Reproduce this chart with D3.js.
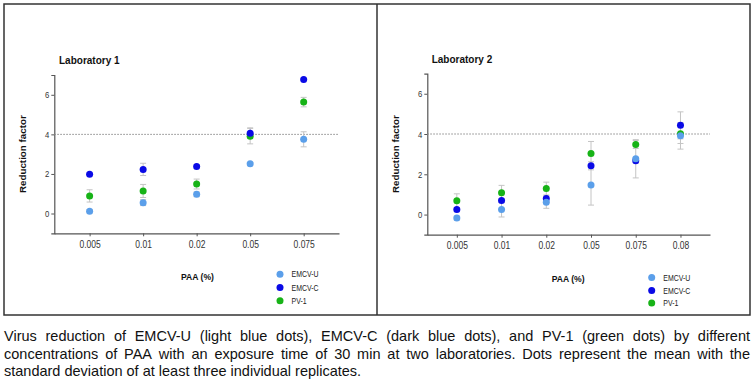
<!DOCTYPE html>
<html><head><meta charset="utf-8">
<script src="https://cdn.jsdelivr.net/npm/d3@7"></script>
<style>
html,body{margin:0;padding:0;background:#fff;}
svg{display:block;}
</style></head>
<body>
<svg id="chart" width="755" height="382"></svg>
<script>
// ---------------- data ----------------
const seriesNames = ["EMCV-U", "EMCV-C", "PV-1"];
const seriesColors = ["#5b9fea", "#0a0ae6", "#17b317"];

const lab1Cats = ["0.005", "0.01", "0.02", "0.05", "0.075"];
const lab1EmcvU = [0.12, 0.55, 0.97, 2.52, 3.75];
const lab1EmcvUSd = [0.08, 0.15, 0.12, 0.06, 0.38];
const lab1EmcvC = [1.98, 2.23, 2.38, 4.06, 6.77];
const lab1EmcvCSd = [0.05, 0.31, 0.08, 0.27, 0.05];
const lab1Pv1 = [0.89, 1.14, 1.49, 3.91, 5.63];
const lab1Pv1Sd = [0.31, 0.33, 0.25, 0.39, 0.24];

const lab2Cats = ["0.005", "0.01", "0.02", "0.05", "0.075", "0.08"];
const lab2EmcvU = [-0.17, 0.25, 0.61, 1.47, 2.77, 3.91];
const lab2EmcvUSd = [0.10, 0.37, 0.30, 1.00, 0.95, 0.66];
const lab2EmcvC = [0.25, 0.70, 0.80, 2.42, 2.67, 4.43];
const lab2EmcvCSd = [0.10, 0.10, 0.15, 0.20, 0.10, 0.67];
const lab2Pv1 = [0.68, 1.08, 1.29, 3.03, 3.48, 4.01];
const lab2Pv1Sd = [0.35, 0.37, 0.32, 0.60, 0.20, 0.48];

const yTicks = [0, 2, 4, 6];
const yDomain = [-1, 7];
const thresholdValue = 4;

const captionLines = [
  "Virus reduction of EMCV-U (light blue dots), EMCV-C (dark blue dots), and PV-1 (green dots) by different",
  "concentrations of PAA with an exposure time of 30 min at two laboratories. Dots represent the mean with the",
  "standard deviation of at least three individual replicates."
];

// ---------------- drawing ----------------
const svg = d3.select("#chart");
const FONT = "'Liberation Sans',Arial,sans-serif";
const SQ = 0.81; // horizontal condensing for chart labels

svg.append("rect").attr("width", 755).attr("height", 382).attr("fill", "#fff");

// frame
svg.append("rect").attr("x", 4).attr("y", 4).attr("width", 746).attr("height", 311)
  .attr("fill", "none").attr("stroke", "#333").attr("stroke-width", 1.5);
svg.append("line").attr("x1", 377).attr("x2", 377).attr("y1", 4).attr("y2", 315)
  .attr("stroke", "#333").attr("stroke-width", 1.5);

function narrowText(parent, x, y, str, size, sq) {
  return parent.append("text")
    .attr("transform", `translate(${x},${y}) scale(${sq},1)`)
    .attr("font-family", FONT).attr("font-size", size).text(str);
}

const panels = [
  {
    title: "Laboratory 1", cats: lab1Cats,
    values: [lab1EmcvU, lab1EmcvC, lab1Pv1], sds: [lab1EmcvUSd, lab1EmcvCSd, lab1Pv1Sd],
    x0: 54.3, x1: 339, yTop: 75, yBot: 233.3,
    titleX: 59, titleY: 64, yLabX: 26, xLabX: 181, xLabY: 279.5,
    legX: 280, legY: [274.3, 287.5, 300.8], legTextX: 291.5
  },
  {
    title: "Laboratory 2", cats: lab2Cats,
    values: [lab2EmcvU, lab2EmcvC, lab2Pv1], sds: [lab2EmcvUSd, lab2EmcvCSd, lab2Pv1Sd],
    x0: 427.3, x1: 710, yTop: 73.6, yBot: 234.7,
    titleX: 431.7, titleY: 63, yLabX: 398.5, xLabX: 551.7, xLabY: 281.5,
    legX: 651.7, legY: [277.5, 290.5, 303], legTextX: 663.3
  }
];

panels.forEach(p => {
  const g = svg.append("g");
  const x = d3.scalePoint().domain(p.cats).range([p.x0, p.x1]).padding(0.66);
  const y = d3.scaleLinear().domain(yDomain).range([p.yBot, p.yTop]);

  // y axis
  const ya = g.append("g").attr("transform", `translate(${p.x0},0)`)
    .call(d3.axisLeft(y).tickValues(yTicks).tickSize(3).tickPadding(2).tickFormat(d3.format("d")));
  ya.select(".domain").attr("stroke", "#555").attr("stroke-width", 1.2);
  ya.selectAll(".tick line").attr("stroke", "#555");
  ya.selectAll(".tick text").attr("font-family", FONT).attr("font-size", 9.5).attr("fill", "#333")
    .attr("x", -5 / SQ).attr("transform", `scale(${SQ},1)`);

  // x axis
  const xa = g.append("g").attr("transform", `translate(0,${p.yBot})`)
    .call(d3.axisBottom(x).tickSize(3).tickPadding(4).tickSizeOuter(0));
  xa.select(".domain").attr("stroke", "#555").attr("stroke-width", 1.2);
  xa.selectAll(".tick line").attr("stroke", "#555");
  xa.selectAll(".tick text").attr("font-family", FONT).attr("font-size", 10.5).attr("fill", "#333")
    .attr("transform", `scale(${SQ},1)`);

  // threshold
  g.append("line").attr("x1", p.x0).attr("x2", p.x1)
    .attr("y1", y(thresholdValue)).attr("y2", y(thresholdValue))
    .attr("stroke", "#888").attr("stroke-width", 1).attr("stroke-dasharray", "1.5,1.5");

  // error bars (under dots)
  const eg = g.append("g").attr("stroke", "#c4c4c4").attr("stroke-width", 1);
  p.values.forEach((vals, si) => {
    vals.forEach((v, i) => {
      const sd = p.sds[si][i];
      const cx = x(p.cats[i]);
      eg.append("line").attr("x1", cx).attr("x2", cx).attr("y1", y(v - sd)).attr("y2", y(v + sd));
      [v - sd, v + sd].forEach(e => {
        eg.append("line").attr("x1", cx - 3).attr("x2", cx + 3).attr("y1", y(e)).attr("y2", y(e));
      });
    });
  });

  // dots: PV-1 bottom, EMCV-C, EMCV-U top
  [2, 1, 0].forEach(si => {
    g.append("g").selectAll("circle").data(p.values[si]).join("circle")
      .attr("cx", (d, i) => x(p.cats[i])).attr("cy", d => y(d))
      .attr("r", 3.5).attr("fill", seriesColors[si]);
  });

  // titles
  g.append("text").attr("x", p.titleX).attr("y", p.titleY).text(p.title)
    .attr("font-family", FONT).attr("font-weight", "bold").attr("font-size", 10).attr("fill", "#111");
  g.append("text").attr("transform", `translate(${p.yLabX},${(p.yTop + p.yBot) / 2}) rotate(-90)`)
    .attr("text-anchor", "middle").text("Reduction factor")
    .attr("font-family", FONT).attr("font-weight", "bold").attr("font-size", 9.8).attr("fill", "#111");
  g.append("text").attr("x", p.xLabX).attr("y", p.xLabY).text("PAA (%)")
    .attr("font-family", FONT).attr("font-weight", "bold").attr("font-size", 8.6).attr("fill", "#111");

  // legend
  seriesNames.forEach((n, si) => {
    g.append("circle").attr("cx", p.legX).attr("cy", p.legY[si]).attr("r", 3.5).attr("fill", seriesColors[si]);
    narrowText(g, p.legTextX, p.legY[si], n, 8.6, SQ).attr("dy", "0.35em").attr("fill", "#222");
  });
});

// caption with justified first two lines
const capY = [341, 358.5, 376];
const capLeft = 4, capRight = 750, capSize = 14.5, capSq = 1;
captionLines.forEach((line, li) => {
  const words = line.split(" ");
  const tg = svg.append("g");
  const nodes = words.map(w => narrowText(tg, 0, capY[li], w, capSize, capSq).attr("fill", "#111"));
  const widths = nodes.map(n => n.node().getComputedTextLength() * capSq);
  const total = d3.sum(widths);
  const justify = li < captionLines.length - 1;
  const spaceW = capSize * 0.278 * capSq;
  const gap = justify ? (capRight - capLeft - total) / (words.length - 1) : spaceW;
  let cx = capLeft;
  nodes.forEach((n, i) => {
    n.attr("transform", `translate(${cx},${capY[li]}) scale(${capSq},1)`);
    cx += widths[i] + gap;
  });
});
</script>
</body></html>
